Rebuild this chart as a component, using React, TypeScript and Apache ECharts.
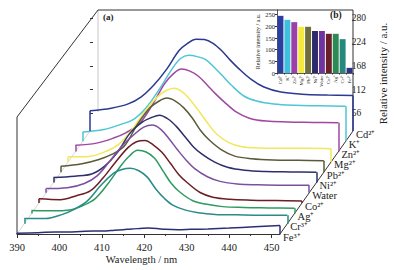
import React, { useEffect, useRef } from "react";
import * as echarts from "echarts";

// front (k=0) to back (k=10)
const ions = ["Fe³⁺", "Cr³⁺", "Ag⁺", "Co²⁺", "Water", "Ni²⁺", "Pb²⁺", "Mg²⁺", "Zn²⁺", "K⁺", "Cd²⁺"];
const wavelengths = [390, 395, 399, 402, 405, 408, 411, 413, 415, 417, 419, 421, 423, 425, 428, 431, 435, 440, 446, 452];

const feValues = [2, 3, 5, 5, 6, 7, 7, 9, 10, 12, 13, 14, 13, 11, 10, 11, 12, 14, 17, 20];
const crValues = [12, 12, 22, 35, 55, 90, 119, 128, 131, 125, 110, 82, 60, 44, 32, 26, 22, 21, 20, 20];
const agValues = [7, 6, 8, 18, 35, 70, 112, 135, 149, 145, 130, 100, 70, 50, 30, 22, 16, 14, 13, 12];
const coValues = [10, 8, 18, 28, 58, 96, 131, 145, 148, 137, 120, 94, 67, 48, 25, 14, 9, 7, 6, 5];
const waterValues = [10, 12, 22, 40, 75, 112, 140, 155, 160, 150, 127, 101, 77, 57, 38, 27, 21, 19, 18, 18];
const niValues = [12, 15, 20, 38, 70, 116, 143, 153, 159, 150, 132, 108, 84, 67, 48, 36, 29, 26, 25, 24];
const pbValues = [14, 20, 30, 42, 62, 112, 152, 167, 175, 168, 152, 128, 98, 76, 52, 38, 32, 29, 28, 27];
const mgValues = [12, 13, 25, 42, 75, 118, 153, 168, 174, 165, 144, 118, 90, 66, 45, 36, 33, 32, 32, 31];
const znValues = [15, 20, 32, 45, 65, 108, 160, 183, 195, 190, 178, 158, 137, 118, 93, 79, 72, 70, 69, 68];
const kValues = [22, 28, 40, 52, 80, 122, 170, 195, 203, 200, 193, 175, 154, 133, 107, 95, 88, 85, 84, 83];
const cdValues = [48, 54, 64, 80, 108, 145, 190, 207, 217, 216, 207, 190, 168, 148, 122, 104, 92, 87, 85, 84];

const curveValues = [feValues, crValues, agValues, coValues, waterValues, niValues, pbValues, mgValues, znValues, kValues, cdValues];
const lineColors = ["#2b2f74", "#2a8b87", "#2e9a60", "#6b1f24", "#7c4fa0", "#2d2f6b", "#5b5b38", "#f0e85a", "#a0479f", "#4ec6d6", "#2b3990"];

const xTickValues = [390, 400, 410, 420, 430, 440, 450];
const rightTickValues = [56, 112, 168, 224, 280];

// inset (b)
const insetIons = ["Cd²⁺", "K⁺", "Zn²⁺", "Mg²⁺", "Pb²⁺", "Ni²⁺", "Water", "Co²⁺", "Ag⁺", "Cr³⁺", "Fe³⁺"];
const insetValues = [245, 228, 218, 198, 198, 180, 180, 168, 168, 145, 22];
const insetColors = ["#2a3fa0", "#3fc0dc", "#9c3fa8", "#f4ea3e", "#6e6e3c", "#2b2b6c", "#6e35a0", "#6b1f28", "#2d8a55", "#238a7d", "#2b3288"];
const insetTickValues = [0, 50, 100, 150, 200, 250];

const FONT = '"Liberation Serif", "Times New Roman", serif';
const X0 = 17;
const BASE0 = 234;
const DX = 7.3;
const DY = 10.3;
const PW = 263;
const PH = 127;
const N = 11;

export default function App() {
  const ref = useRef<HTMLDivElement>(null);
  useEffect(() => {
    if (!ref.current) return;
    const chart = echarts.init(ref.current, undefined, { renderer: "svg" });
    const grids: any[] = [];
    const xAxes: any[] = [];
    const yAxes: any[] = [];
    const series: any[] = [];
    for (let k = 0; k < N; k++) {
      grids.push({ left: X0 + DX * k, top: BASE0 - DY * k - PH, width: PW, height: PH });
      if (k === 0) {
        xAxes.push({
          gridIndex: k, type: "value", min: 390, max: 452, interval: 10,
          axisLine: { show: true, lineStyle: { color: "#333", width: 1 } },
          axisTick: { show: true, length: 4, customValues: xTickValues, lineStyle: { color: "#333" } },
          minorTick: { show: true, splitNumber: 2, length: 2, lineStyle: { color: "#333" } },
          axisLabel: { customValues: xTickValues, fontSize: 10.5, color: "#222", margin: 8, fontFamily: FONT },
          splitLine: { show: false },
          minorSplitLine: { show: false },
          name: "Wavelength / nm", nameLocation: "middle", nameGap: 19,
          nameTextStyle: { fontSize: 10.5, color: "#222", fontFamily: FONT, padding: [0, 14, 0, 0] },
        });
      } else {
        xAxes.push({ gridIndex: k, type: "value", min: 390, max: 452, show: false });
      }
      yAxes.push({ gridIndex: k, type: "value", min: 0, max: 300, show: false });
    }
    for (let k = N - 1; k >= 0; k--) {
      const vals = curveValues[k];
      const color = lineColors[k];
      series.push({
        type: "line", xAxisIndex: k, yAxisIndex: k,
        data: wavelengths.map((w, i) => [w, vals[i]]),
        smooth: 0.35, symbol: "none", clip: false, silent: true,
        lineStyle: { color, width: 1.5 },
        markLine: {
          silent: true, symbol: "none", label: { show: false },
          lineStyle: { color, width: 1.5, type: "solid" },
          data: [
            [{ coord: [wavelengths[0], 0] }, { coord: [wavelengths[0], vals[0]] }],
            [{ coord: [wavelengths[wavelengths.length - 1], vals[vals.length - 1]] }, { coord: [wavelengths[wavelengths.length - 1], 0] }],
          ],
        },
        markPoint: {
          silent: true, symbol: "circle", symbolSize: 0,
          data: [{ coord: [wavelengths[wavelengths.length - 1], 0], value: 0 }],
          label: { show: true, position: "right", distance: 3, offset: [0, 3], formatter: ions[k], color: "#222", fontSize: 10.5, fontFamily: FONT },
        },
      });
    }
    // right axis grid (11)
    grids.push({ left: 90, top: 10, width: 263, height: 127 });
    xAxes.push({ gridIndex: 11, type: "value", min: 0, max: 1, show: false });
    yAxes.push({
      gridIndex: 11, type: "value", position: "right", min: 0, max: 300,
      axisLine: { show: false },
      axisTick: { show: true, length: 3, customValues: rightTickValues, lineStyle: { color: "#333" } },
      axisLabel: { customValues: rightTickValues, fontSize: 9.5, color: "#222", margin: 5, fontFamily: FONT },
      splitLine: { show: false },
      name: "Relative intensity / a.u.", nameLocation: "middle", nameRotate: 90, nameGap: 27,
      nameTextStyle: { fontSize: 11, color: "#222", fontFamily: FONT },
    });
    // inset grid (12)
    grids.push({ left: 277, top: 10, width: 76, height: 63 });
    xAxes.push({
      gridIndex: 12, type: "category", data: insetIons,
      axisLine: { show: true, lineStyle: { color: "#333", width: 0.8 } },
      axisTick: { show: true, length: 1.5, lineStyle: { color: "#333" } },
      axisLabel: { rotate: 90, fontSize: 5, interval: 0, margin: 2, color: "#222", fontFamily: FONT },
    });
    yAxes.push({
      gridIndex: 12, type: "value", min: 0, max: 270,
      axisLine: { show: true, lineStyle: { color: "#333", width: 0.8 } },
      axisTick: { show: true, length: 2, customValues: insetTickValues, lineStyle: { color: "#333" } },
      axisLabel: { customValues: insetTickValues, fontSize: 6.5, margin: 2, color: "#222", fontFamily: FONT },
      splitLine: { show: false },
      name: "Relative intensity / a.u.", nameLocation: "middle", nameGap: 15,
      nameTextStyle: { fontSize: 6, color: "#222", fontFamily: FONT },
    });
    series.push({
      type: "bar", xAxisIndex: 12, yAxisIndex: 12, barCategoryGap: "14%", silent: true,
      data: insetValues.map((v, i) => ({ value: v, itemStyle: { color: insetColors[i] } })),
    });

    const backLeft = X0 + DX * (N - 1);
    const backBase = BASE0 - DY * (N - 1);
    const rightX = X0 + DX * (N - 1) + PW;
    chart.setOption({
      animation: false,
      backgroundColor: "#ffffff",
      grid: grids,
      xAxis: xAxes,
      yAxis: yAxes,
      series,
      graphic: [
        { type: "line", z: -1, shape: { x1: 98, y1: 10, x2: 98, y2: 112 }, style: { stroke: "#bbbbbb", lineWidth: 0.8 } },
        { type: "line", z: -1, shape: { x1: X0, y1: BASE0, x2: backLeft, y2: backBase }, style: { stroke: "#cccccc", lineWidth: 0.8 } },
        {
          type: "polyline", z: 0,
          shape: { points: [[X0, BASE0], [X0, 117], [98, 10], [rightX, 10], [rightX, backBase], [X0 + PW, BASE0]] },
          style: { stroke: "#333", lineWidth: 1, fill: null },
        },
        { type: "text", x: 103, y: 12, style: { text: "(a)", fontSize: 9, fontWeight: "bold", fontFamily: FONT, fill: "#222" } },
        { type: "text", x: 330, y: 10, style: { text: "(b)", fontSize: 9.5, fontWeight: "bold", fontFamily: FONT, fill: "#222" } },
      ],
    });
    return () => chart.dispose();
  }, []);
  return <div ref={ref} style={{ position: "fixed", left: 0, top: 0, width: 396, height: 270 }} />;
}
